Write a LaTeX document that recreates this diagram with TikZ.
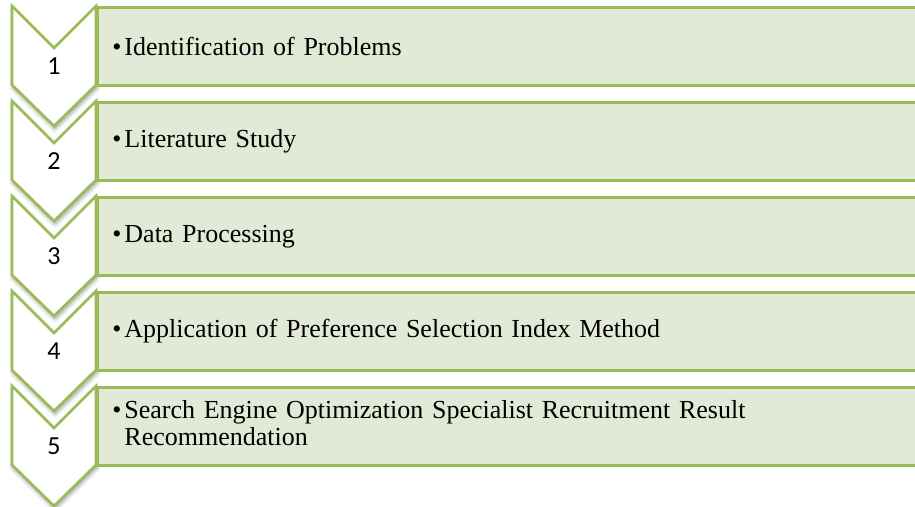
\documentclass[tikz,border=0pt]{standalone}
\usepackage{fontspec}
\usepackage{xcolor}
\setmainfont{Liberation Serif}
\newfontfamily\numfont{Carlito}
\usetikzlibrary{shadows.blur}
\definecolor{stepgreen}{RGB}{155,187,89}
\definecolor{stepfill}{RGB}{226,233,214}

% one chevron, top edge at y=#1
\newcommand{\chevron}[1]{(12,#1) -- (54,#1+42) -- (96,#1) -- (96,#1+79) -- (54,#1+120) -- (12,#1+79) -- cycle}

\tikzset{
  stepbox/.style={draw=stepgreen, line width=2.7pt, fill=stepfill, anchor=north west,
    minimum height=78pt, text width=791pt, inner xsep=15pt, align=left,
    font=\fontsize{26}{27}\selectfont},
  arrowhead/.style={draw=stepgreen, line width=2.7pt, fill=white, line join=miter,
    blur shadow={shadow xshift=1pt, shadow yshift=-3pt, shadow blur radius=4pt, shadow opacity=40}},
  stepnum/.style={font=\numfont\fontsize{26}{26}\selectfont}
}

\begin{document}
\begin{tikzpicture}[x=1pt, y=-1pt]
            \useasboundingbox (0,0) rectangle (915,506);

            % chevrons first, the boxes hide their right side
            \draw[arrowhead] \chevron{6};
            \draw[arrowhead] \chevron{101};
            \draw[arrowhead] \chevron{196};
            \draw[arrowhead] \chevron{291};
            \draw[arrowhead] \chevron{386};

            \node[stepbox] (box1) at (96,6) {\textbullet\hspace{3pt}Identification of Problems};
            \node[stepbox] (box2) at (96,101) {\textbullet\hspace{3pt}Literature Study};
            \node[stepbox] (box3) at (96,196) {\textbullet\hspace{3pt}Data Processing};
            \node[stepbox] (box4) at (96,291) {\textbullet\hspace{3pt}Application of Preference Selection Index Method};
            \node[stepbox] (box5) at (96,386) {\textbullet\hspace{3pt}\begin{tabular}[t]{@{}l@{}}Search Engine Optimization Specialist Recruitment Result\\Recommendation\end{tabular}};

            \node[stepnum] (num1) at (54,66) {1};
            \node[stepnum] (num2) at (54,161) {2};
            \node[stepnum] (num3) at (54,256) {3};
            \node[stepnum] (num4) at (54,351) {4};
            \node[stepnum] (num5) at (54,446) {5};
        \end{tikzpicture}
\end{document}
